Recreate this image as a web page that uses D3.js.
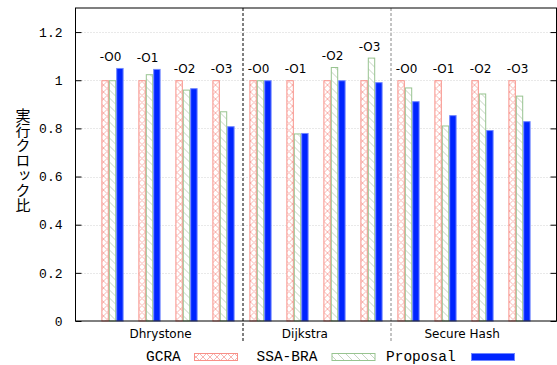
<!DOCTYPE html>
<html>
<head>
<meta charset="utf-8">
<script src="https://cdn.jsdelivr.net/npm/d3@7"></script>
<style>
  body { margin: 0; background: #fff; }
  svg { display: block; }
</style>
</head>
<body>
<svg id="svg" width="557" height="365"></svg>
<script>
// benchmark groups and optimisation levels
const benchmarks = ['Dhrystone', 'Dijkstra', 'Secure Hash'];
const optLevels = ['-O0', '-O1', '-O2', '-O3'];
const seriesNames = ['GCRA', 'SSA-BRA', 'Proposal'];

// execution clock ratio, one entry per (benchmark, opt level)
const gcra = [1, 1, 1, 1, 1, 1, 1, 1, 1, 1, 1, 1];
const ssaBra = [1.0, 1.025, 0.961, 0.871, 1.0, 0.779, 1.055, 1.094, 0.97, 0.812, 0.945, 0.936];
const proposal = [1.051, 1.047, 0.967, 0.809, 1.0, 0.781, 1.0, 0.992, 0.913, 0.855, 0.793, 0.83];

const yTicks = [0, 0.2, 0.4, 0.6, 0.8, 1, 1.2];
// where the benchmark names sit along the cluster axis
const groupLabelPos = [1.3, 5.2, 9.45];

const margin = { top: 8, right: 0.5, bottom: 44, left: 75.5 };
const width = 557 - margin.left - margin.right;
const height = 365 - margin.top - margin.bottom;

const svg = d3.select('#svg');

// patterns for the hatched bars
const defs = svg.append('defs');
const cross = defs.append('pattern')
  .attr('id', 'cross')
  .attr('patternUnits', 'userSpaceOnUse')
  .attr('width', 7)
  .attr('height', 7);
cross.append('rect').attr('width', 7).attr('height', 7).attr('fill', '#fff');
cross.append('path')
  .attr('d', 'M0,0L7,7M7,0L0,7')
  .attr('stroke', '#f8b4b0')
  .attr('stroke-width', 1);

const hatch = defs.append('pattern')
  .attr('id', 'hatch')
  .attr('patternUnits', 'userSpaceOnUse')
  .attr('width', 8)
  .attr('height', 8);
hatch.append('rect').attr('width', 8).attr('height', 8).attr('fill', '#fff');
hatch.append('path')
  .attr('d', 'M0,0L8,8M-4,4L0,8M8,0L12,4')
  .attr('stroke', '#c4d4c0')
  .attr('stroke-width', 1);

const styles = [
  { fill: 'url(#cross)', stroke: '#f89088' },
  { fill: 'url(#hatch)', stroke: '#98c490' },
  { fill: '#0025ff', stroke: '#6f86ff' },
];

const g = svg.append('g')
  .attr('transform', 'translate(' + margin.left + ',' + margin.top + ')');

const x = d3.scaleLinear().domain([-1, benchmarks.length * optLevels.length]).range([0, width]);
const y = d3.scaleLinear().domain([0, 1.3]).range([height, 0]);

// grid
g.append('g')
  .selectAll('line')
  .data(yTicks.filter(d => d > 0))
  .join('line')
  .attr('x1', 0)
  .attr('x2', width)
  .attr('y1', d => Math.round(y(d)) + 0.5)
  .attr('y2', d => Math.round(y(d)) + 0.5)
  .attr('stroke', '#c8c8c8')
  .attr('stroke-width', 0.8)
  .attr('stroke-dasharray', '1,2');

// bars
const series = [gcra, ssaBra, proposal];
const bw = 0.2;
const rows = [];
series.forEach((vals, s) => {
  vals.forEach((v, i) => rows.push({ s, i, v }));
});

g.append('g')
  .selectAll('rect')
  .data(rows)
  .join('rect')
  .attr('x', d => x(d.i + (d.s - 1.5) * bw) + 0.5)
  .attr('width', x(bw) - x(0) - 1)
  .attr('y', d => y(d.v) + 0.5)
  .attr('height', d => y(0) - y(d.v) - 0.5)
  .attr('fill', d => styles[d.s].fill)
  .attr('stroke', d => styles[d.s].stroke)
  .attr('stroke-width', 1);

// opt level labels above each cluster
const clusters = gcra.map((v, i) => ({
  i,
  top: Math.max(gcra[i], ssaBra[i], proposal[i]),
  label: optLevels[i % optLevels.length],
}));
g.append('g')
  .selectAll('text')
  .data(clusters)
  .join('text')
  .attr('x', d => x(d.i) - 2)
  .attr('y', d => y(d.top) - 7)
  .attr('text-anchor', 'middle')
  .attr('font-family', 'DejaVu Sans, sans-serif')
  .attr('font-size', 12)
  .attr('fill', '#000')
  .text(d => d.label);

// group separators
const seps = d3.range(1, benchmarks.length).map(k => k * optLevels.length - 0.5);
g.append('g')
  .selectAll('line')
  .data(seps)
  .join('line')
  .attr('x1', d => Math.round(x(d)) + 0.5)
  .attr('x2', d => Math.round(x(d)) + 0.5)
  .attr('y1', 0)
  .attr('y2', height + 21)
  .attr('stroke', (d, k) => (k === 0 ? '#000' : '#888'))
  .attr('stroke-width', 1)
  .attr('stroke-dasharray', '3,2');

// frame
g.append('rect')
  .attr('x', 0)
  .attr('y', 0)
  .attr('width', width)
  .attr('height', height)
  .attr('fill', 'none')
  .attr('stroke', '#000')
  .attr('stroke-width', 1);

// y axis (ticks drawn inward on both sides)
const yAxis = d3.axisLeft(y)
  .tickValues(yTicks)
  .tickSize(-6)
  .tickPadding(13)
  .tickFormat(d => (d === 0 ? '0' : d === 1 ? '1' : d3.format('.1f')(d)));
const ya = g.append('g').call(yAxis);
ya.select('.domain').remove();
ya.selectAll('text')
  .attr('font-family', 'Liberation Mono, monospace')
  .attr('font-size', 13)
  .attr('fill', '#000');

const yAxisR = d3.axisRight(y).tickValues(yTicks).tickSize(-6).tickFormat('');
const yr = g.append('g').attr('transform', 'translate(' + width + ',0)').call(yAxisR);
yr.select('.domain').remove();

// benchmark names
g.append('g')
  .selectAll('text')
  .data(benchmarks)
  .join('text')
  .attr('x', (d, k) => x(groupLabelPos[k]))
  .attr('y', height + 16.5)
  .attr('text-anchor', 'middle')
  .attr('font-family', 'DejaVu Sans, sans-serif')
  .attr('font-size', 12)
  .text(d => d);

// y title, stacked vertically
svg.append('text')
  .attr('x', 23)
  .attr('y', 108)
  .attr('font-family', 'Noto Sans CJK JP, sans-serif')
  .attr('font-size', 15)
  .style('writing-mode', 'vertical-rl')
  .attr('text-anchor', 'start')
  .text('実行クロック比');

// legend
const legendText = [146, 256.5, 386];
const legendBox = [194, 331.5, 471];
const leg = svg.append('g');
seriesNames.forEach((name, s) => {
  leg.append('text')
    .attr('x', legendText[s])
    .attr('y', 360.5)
    .attr('font-family', 'Liberation Mono, monospace')
    .attr('font-size', 14.5)
    .text(name);
  leg.append('rect')
    .attr('x', legendBox[s] + 0.5)
    .attr('y', 353.5)
    .attr('width', 43)
    .attr('height', 7)
    .attr('fill', styles[s].fill)
    .attr('stroke', styles[s].stroke);
});
</script>
</body>
</html>
